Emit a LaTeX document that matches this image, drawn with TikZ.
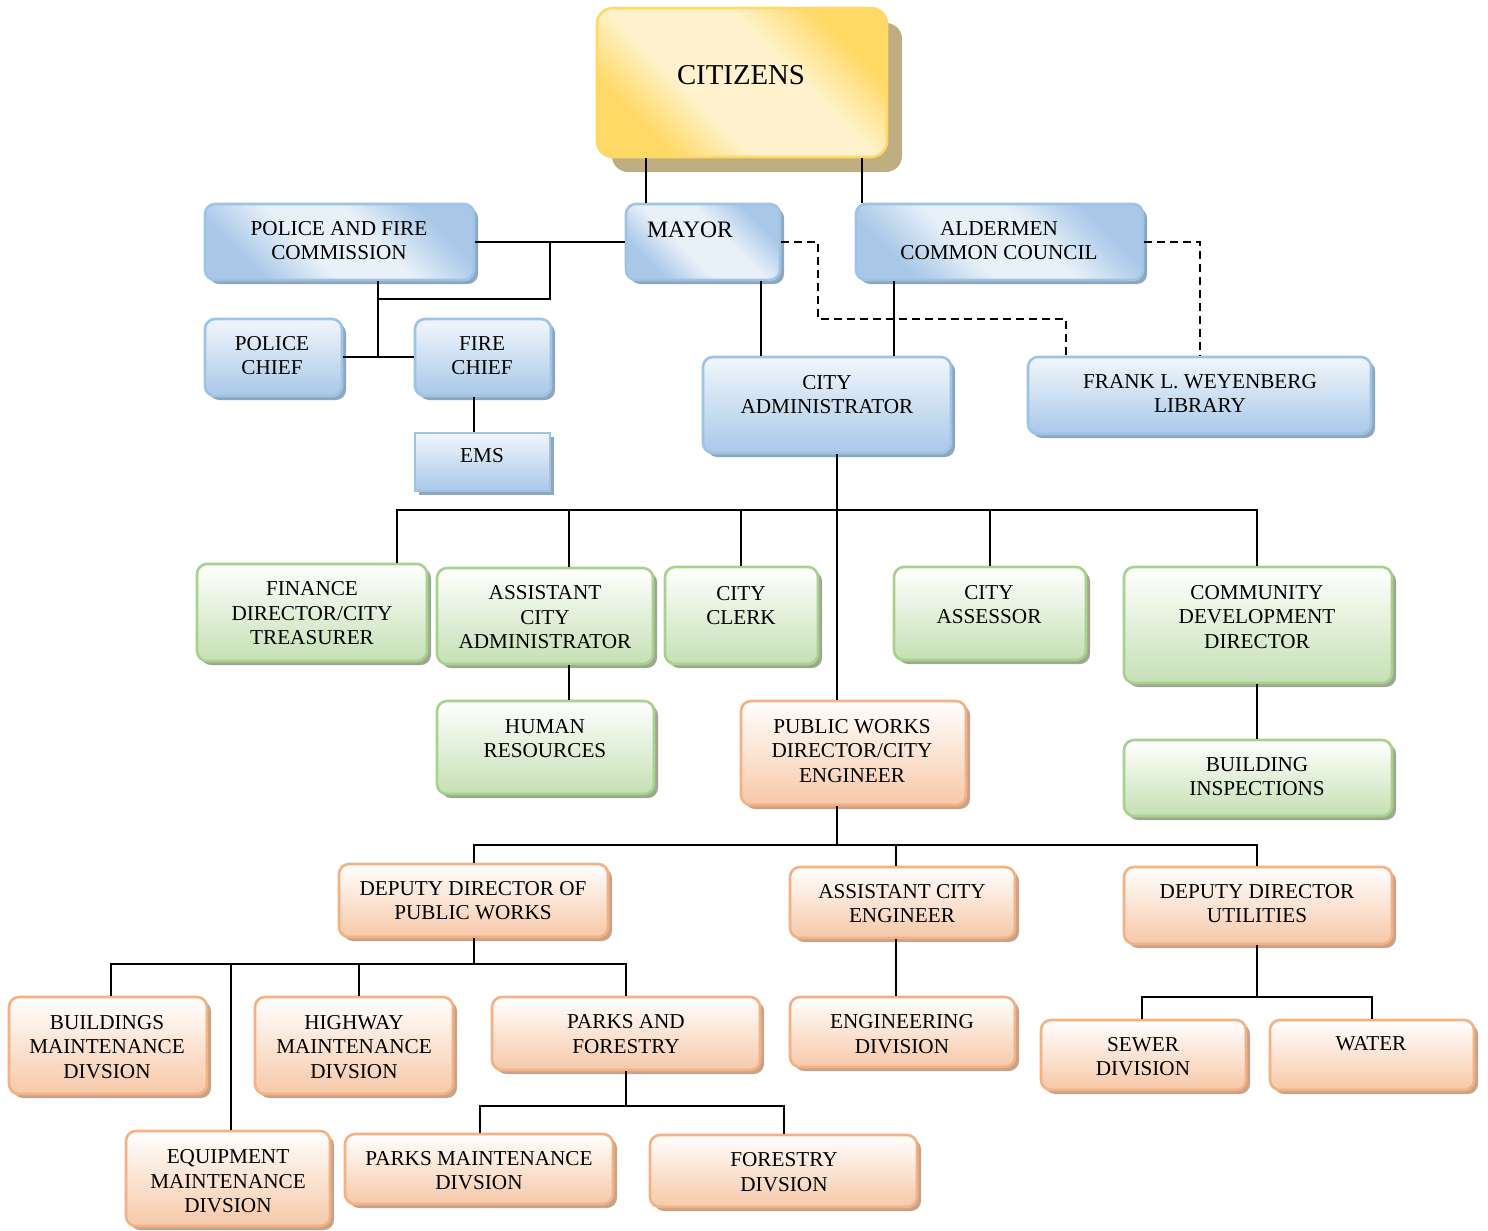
\documentclass[tikz,border=0pt]{standalone}
\usepackage{fontspec}
\setmainfont{Liberation Serif}
\usetikzlibrary{fit,shadows}
\definecolor{bBord}{HTML}{9DC3E6}
\definecolor{bDark}{HTML}{A9C8E8}
\definecolor{bLight}{HTML}{E8F0F9}
\definecolor{bShad}{HTML}{8FA6BF}
\definecolor{gBord}{HTML}{A9D18E}
\definecolor{gDark}{HTML}{C5E0B4}
\definecolor{gShad}{HTML}{9DA893}
\definecolor{oBord}{HTML}{F4B183}
\definecolor{oDark}{HTML}{F7C8A8}
\definecolor{oShad}{HTML}{C8A38A}
\definecolor{yBord}{HTML}{FFD966}
\definecolor{yDark}{HTML}{FFD966}
\definecolor{yLight}{HTML}{FFF2CC}
\definecolor{yShad}{HTML}{BFAE7F}
\pgfdeclareverticalshading{ydiag}{100bp}{color(0bp)=(yDark); color(27bp)=(yDark); color(40bp)=(yLight); color(60bp)=(yLight); color(73bp)=(yDark); color(100bp)=(yDark)}
\pgfdeclareverticalshading{bdiag}{100bp}{color(0bp)=(bDark); color(27bp)=(bDark); color(42bp)=(bLight); color(58bp)=(bLight); color(73bp)=(bDark); color(100bp)=(bDark)}
\tikzset{
  boxbase/.style={inner sep=0pt, rounded corners=5pt, line width=1.3pt},
  bluediag/.style={boxbase, draw=bBord, shading=bdiag, shading angle=-45,
     drop shadow={shadow xshift=2pt, shadow yshift=-2pt, fill=bShad, opacity=1}},
  bluebox/.style={boxbase, draw=bBord, top color=bLight!60!white, bottom color=bDark,
     drop shadow={shadow xshift=2pt, shadow yshift=-2pt, fill=bShad, opacity=1}},
  greenbox/.style={boxbase, draw=gBord, top color=white, bottom color=gDark,
     drop shadow={shadow xshift=2pt, shadow yshift=-2pt, fill=gShad, opacity=1}},
  orangebox/.style={boxbase, draw=oBord, top color=white, bottom color=oDark,
     drop shadow={shadow xshift=2pt, shadow yshift=-2pt, fill=oShad, opacity=1}},
  yellowbox/.style={boxbase, rounded corners=8pt, draw=yBord, shading=ydiag, shading angle=-45,
     drop shadow={shadow xshift=7.5pt, shadow yshift=-7.5pt, fill=yShad, opacity=1}},
  txt/.style={font=\fontsize{10.6}{12.25}\selectfont, align=center, inner sep=0pt},
  conn/.style={line width=1pt, black},
  dconn/.style={line width=1pt, black, dash pattern=on 4pt off 2.5pt},
}
\newcommand\bx[6]{\node[#1, fit={(#3,#4) (#5,#6)}] (#2) {};}
\begin{document}
\begin{tikzpicture}[x=0.5pt,y=-0.5pt]
\useasboundingbox (0,0) rectangle (1488,1231);

% ---- boxes ----
\bx{yellowbox}{citizens}{597}{8}{887}{157}
\bx{bluediag}{pfc}{205}{204}{474}{280}
\bx{bluediag}{mayor}{626}{204}{780}{280}
\bx{bluediag}{aldermen}{856}{204}{1143}{280}
\bx{bluebox}{pchief}{205}{319}{342}{396}
\bx{bluebox}{fchief}{415}{319}{551}{396}
\bx{bluebox,rounded corners=0pt}{ems}{415}{433}{550}{491}
\bx{bluebox}{cityadmin}{703}{357}{951}{453}
\bx{bluebox}{library}{1028}{357}{1371}{434}

\bx{greenbox}{finance}{197}{564}{427}{661}
\bx{greenbox}{aca}{437}{568}{653}{664}
\bx{greenbox}{clerk}{665}{567}{818}{664}
\bx{greenbox}{assessor}{894}{567}{1086}{660}
\bx{greenbox}{cdd}{1124}{567}{1392}{683}
\bx{greenbox}{hr}{437}{701}{654}{794}
\bx{greenbox}{bi}{1124}{740}{1392}{816}

\bx{orangebox}{pwd}{741}{701}{966}{805}
\bx{orangebox}{ddpw}{339}{864}{608}{937}
\bx{orangebox}{ace}{790}{867}{1015}{938}
\bx{orangebox}{ddu}{1124}{867}{1392}{944}
\bx{orangebox}{bmd}{9}{997}{207}{1094}
\bx{orangebox}{hmd}{255}{997}{453}{1094}
\bx{orangebox}{pf}{492}{997}{760}{1070}
\bx{orangebox}{eng}{790}{997}{1015}{1067}
\bx{orangebox}{sewer}{1041}{1020}{1246}{1090}
\bx{orangebox}{water}{1270}{1020}{1474}{1090}
\bx{orangebox}{emd}{126}{1131}{330}{1226}
\bx{orangebox}{pmd}{345}{1134}{613}{1204}
\bx{orangebox}{fd}{650}{1135}{917}{1207}

% ---- texts ----
\node[txt, font=\fontsize{14.4}{16}\selectfont] (citizens-t) at (741,75) {CITIZENS};
\node[txt] (pfc-t) at (339,240.5) {POLICE AND FIRE\\COMMISSION};
\node[txt, font=\fontsize{11.8}{14}\selectfont] (mayor-t) at (690,230) {MAYOR};
\node[txt] (aldermen-t) at (999,240.5) {ALDERMEN\\COMMON COUNCIL};
\node[txt] (pchief-t) at (272,355.5) {POLICE\\CHIEF};
\node[txt] (fchief-t) at (482,355.5) {FIRE\\CHIEF};
\node[txt] (ems-t) at (482,456) {EMS};
\node[txt] (cityadmin-t) at (827,394.5) {CITY\\ADMINISTRATOR};
\node[txt] (library-t) at (1200,393.5) {FRANK L. WEYENBERG\\LIBRARY};

\node[txt] (finance-t) at (312,613.5) {FINANCE\\DIRECTOR/CITY\\TREASURER};
\node[txt] (aca-t) at (545,617.5) {ASSISTANT\\CITY\\ADMINISTRATOR};
\node[txt] (clerk-t) at (741,605.5) {CITY\\CLERK};
\node[txt] (assessor-t) at (989,604.5) {CITY\\ASSESSOR};
\node[txt] (cdd-t) at (1257,617) {COMMUNITY\\DEVELOPMENT\\DIRECTOR};
\node[txt] (hr-t) at (545,738.5) {HUMAN\\RESOURCES};
\node[txt] (bi-t) at (1257,776.5) {BUILDING\\INSPECTIONS};

\node[txt] (pwd-t) at (852,751) {PUBLIC WORKS\\DIRECTOR/CITY\\ENGINEER};
\node[txt] (ddpw-t) at (473,900.5) {DEPUTY DIRECTOR OF\\PUBLIC WORKS};
\node[txt] (ace-t) at (902,903.5) {ASSISTANT CITY\\ENGINEER};
\node[txt] (ddu-t) at (1257,903.5) {DEPUTY DIRECTOR\\UTILITIES};
\node[txt] (bmd-t) at (107,1047) {BUILDINGS\\MAINTENANCE\\DIVSION};
\node[txt] (hmd-t) at (354,1047) {HIGHWAY\\MAINTENANCE\\DIVSION};
\node[txt] (pf-t) at (626,1034) {PARKS AND\\FORESTRY};
\node[txt] (eng-t) at (902,1034) {ENGINEERING\\DIVISION};
\node[txt] (sewer-t) at (1143,1056.5) {SEWER\\DIVISION};
\node[txt] (water-t) at (1371,1044) {WATER};
\node[txt] (emd-t) at (228,1181.5) {EQUIPMENT\\MAINTENANCE\\DIVSION};
\node[txt] (pmd-t) at (479,1170.5) {PARKS MAINTENANCE\\DIVSION};
\node[txt] (fd-t) at (784,1172) {FORESTRY\\DIVSION};

% ---- junction coordinates ----
\coordinate (jpfc) at (550,242);
\coordinate (jpfc2) at (378,299);
\coordinate (jchief) at (378,357);
\coordinate (dj) at (818,319);
\coordinate (bus1) at (837,510);
\coordinate (bus2) at (837,845);
\coordinate (bus3) at (474,964);
\coordinate (bus4) at (1257,997);
\coordinate (bus5) at (626,1106);

% ---- connectors ----
\draw[conn] (citizens.south -| 646,0) -- (mayor.north -| 646,0);
\draw[conn] (citizens.south -| 862,0) -- (aldermen.north -| 862,0);
\draw[conn] (pfc.east |- 0,242) -- (mayor.west |- 0,242);
\draw[conn] (jpfc) |- (jpfc2);
\draw[conn] (pfc.south -| 378,0) -- (jchief);
\draw[conn] (pchief.east |- 0,357) -- (fchief.west |- 0,357);
\draw[conn] (fchief.south -| 474,0) -- (ems.north -| 474,0);
\draw[conn] (mayor.south -| 761,0) -- (cityadmin.north -| 761,0);
\draw[conn] (aldermen.south -| 894,0) -- (cityadmin.north -| 894,0);
\draw[dconn] (mayor.east |- 0,242) -| (dj) -| (library.north -| 1066,0);
\draw[dconn] (aldermen.east |- 0,242) -| (library.north -| 1200,0);

\draw[conn] (cityadmin.south -| 837,0) -- (pwd.north -| 837,0);
\draw[conn] (finance.north -| 397,0) |- (bus1) -| (cdd.north -| 1257,0);
\draw[conn] (aca.north -| 569,0) |- (bus1);
\draw[conn] (clerk.north -| 741,0) |- (bus1);
\draw[conn] (assessor.north -| 990,0) |- (bus1);
\draw[conn] (aca.south -| 569,0) -- (hr.north -| 569,0);
\draw[conn] (cdd.south -| 1257,0) -- (bi.north -| 1257,0);

\draw[conn] (pwd.south -| 837,0) -- (bus2);
\draw[conn] (ddpw.north -| 474,0) |- (bus2) -| (ddu.north -| 1257,0);
\draw[conn] (ace.north -| 896,0) |- (bus2);
\draw[conn] (ace.south -| 896,0) -- (eng.north -| 896,0);

\draw[conn] (ddpw.south -| 474,0) -- (bus3);
\draw[conn] (bmd.north -| 111,0) |- (bus3) -| (pf.north -| 626,0);
\draw[conn] (emd.north -| 231,0) |- (bus3);
\draw[conn] (hmd.north -| 359,0) |- (bus3);

\draw[conn] (ddu.south -| 1257,0) -- (bus4);
\draw[conn] (sewer.north -| 1142,0) |- (bus4) -| (water.north -| 1372,0);

\draw[conn] (pf.south -| 626,0) -- (bus5);
\draw[conn] (pmd.north -| 480,0) |- (bus5) -| (fd.north -| 784,0);
\end{tikzpicture}
\end{document}
